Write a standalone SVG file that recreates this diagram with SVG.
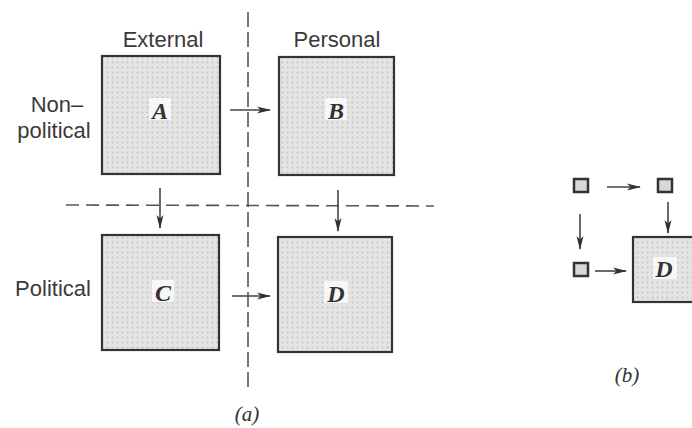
<svg xmlns="http://www.w3.org/2000/svg" width="692" height="428" viewBox="0 0 692 428">
<style>
.lbl{font-family:"Liberation Sans",Arial,sans-serif;font-size:22px;fill:#3a3a3a}
.let{font-family:"Liberation Serif","Times New Roman",serif;font-style:italic;font-weight:bold;font-size:24px;fill:#333;text-anchor:middle}
.cap{font-family:"Liberation Serif","Times New Roman",serif;font-style:italic;font-size:21px;fill:#333;text-anchor:middle}
.box{fill:url(#stip);stroke:#333;stroke-width:2.2}
.sq{fill:#d8d8d8;stroke:#333;stroke-width:2.5}
.bg{fill:#f7f7f7}
.arr{stroke:#444;stroke-width:1.6;fill:none;marker-end:url(#ah)}
.dash{stroke:#555;stroke-width:1.6;fill:none}
</style>
<defs>
<pattern id="stip" width="5" height="5" patternUnits="userSpaceOnUse">
<rect width="5" height="5" fill="#e4e4e4"/>
<circle cx="2.5" cy="2.5" r="1" fill="#c4c4c4"/>
</pattern>
<marker id="ah" markerWidth="14" markerHeight="10" refX="13" refY="5" orient="auto" markerUnits="userSpaceOnUse">
<path d="M0,1.5 L14,5 L0,8.5 L3.5,5 Z" fill="#333"/>
</marker>
</defs>
<rect width="692" height="428" fill="#fff"/>
<g id="guides">
<line class="dash" x1="248" y1="12" x2="248" y2="390" stroke-dasharray="15 5"/>
<line class="dash" x1="66" y1="205" x2="434" y2="206" stroke-dasharray="13 7"/>
</g>
<g id="labels">
<text class="lbl" x="163" y="47" text-anchor="middle">External</text>
<text class="lbl" x="337" y="47" text-anchor="middle">Personal</text>
<text class="lbl" x="57" y="112" text-anchor="middle">Non–</text>
<text class="lbl" x="54" y="138" text-anchor="middle">political</text>
<text class="lbl" x="53" y="296" text-anchor="middle">Political</text>
</g>
<g id="nodeA">
<rect class="box" x="102" y="56" width="118" height="118"/>
<rect class="bg" x="149" y="98" width="22" height="22"/>
<text class="let" x="160" y="119">A</text>
</g>
<g id="nodeB">
<rect class="box" x="279" y="57" width="115" height="118"/>
<rect class="bg" x="325" y="98" width="22" height="22"/>
<text class="let" x="336" y="119">B</text>
</g>
<g id="nodeC">
<rect class="box" x="102" y="235" width="117" height="115"/>
<rect class="bg" x="152" y="280" width="22" height="22"/>
<text class="let" x="163" y="301">C</text>
</g>
<g id="nodeD">
<rect class="box" x="278" y="237" width="114" height="115"/>
<rect class="bg" x="324" y="281" width="24" height="22"/>
<text class="let" x="336" y="302">D</text>
</g>
<g id="nodeB1"><rect class="sq" x="574" y="179" width="14" height="13"/></g>
<g id="nodeB2"><rect class="sq" x="658" y="179" width="14" height="13"/></g>
<g id="nodeB3"><rect class="sq" x="574" y="263" width="14" height="13"/></g>
<g id="nodeBD">
<rect class="box" x="633" y="237" width="62" height="65"/>
<rect class="bg" x="653" y="257" width="24" height="22"/>
<text class="let" x="664" y="277">D</text>
</g>
<g id="connectors">
<line class="arr" x1="230" y1="110" x2="270" y2="110"/>
<line class="arr" x1="232" y1="296" x2="270" y2="296"/>
<line class="arr" x1="160" y1="188" x2="160" y2="228"/>
<line class="arr" x1="338" y1="190" x2="338" y2="231"/>
<line class="arr" x1="607" y1="187" x2="640" y2="187"/>
<line class="arr" x1="580" y1="214" x2="580" y2="249"/>
<line class="arr" x1="668" y1="202" x2="668" y2="233"/>
<line class="arr" x1="595" y1="271" x2="626" y2="271"/>
</g>
<g id="captions">
<text class="cap" x="247" y="421">(a)</text>
<text class="cap" x="627" y="382">(b)</text>
</g>
</svg>
